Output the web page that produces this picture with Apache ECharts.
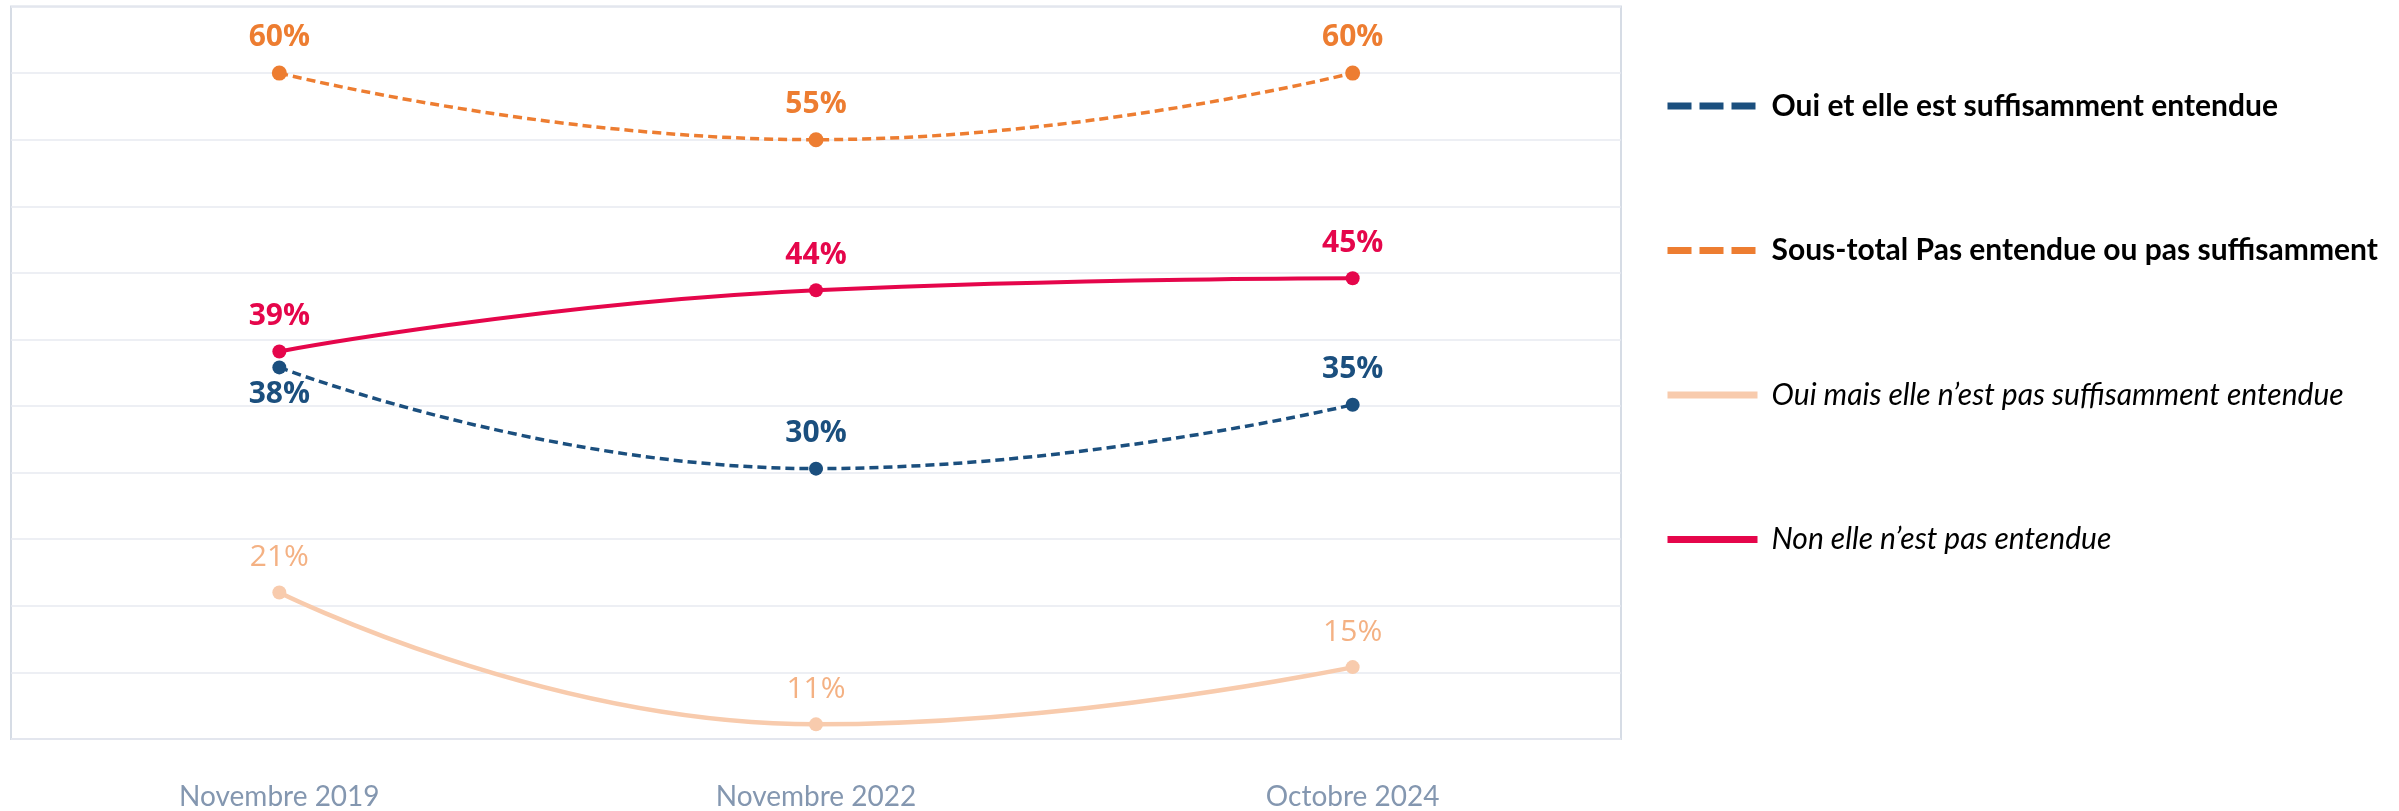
<!DOCTYPE html>
<html>
<head>
    <meta charset="utf-8">
    <title>Est-elle suffisamment entendue</title>
    <style>
        html, body { margin: 0; padding: 0; background: #ffffff; }
        #chart { width: 2399px; height: 811px; }
    </style>
</head>
<body>
    <div id="chart"></div>
    <script src="https://cdn.jsdelivr.net/npm/echarts@6/dist/echarts.min.js"></script>
    <script>
// periodes
var periodes = ['Novembre 2019', 'Novembre 2022', 'Octobre 2024'];

// valeurs (%)
var ouiSuffisant = [37.9, 30.3, 35.1];
var sousTotal = [60, 55, 60];
var ouiPasSuffisant = [21, 11.1, 15.4];
var nonEntendue = [39.1, 43.7, 44.6];

var noms = [
    'Oui et elle est suffisamment entendue',
    'Sous-total Pas entendue ou pas suffisamment',
    'Oui mais elle n\u2019est pas suffisamment entendue',
    'Non elle n\u2019est pas entendue'
];

var chart = echarts.init(document.getElementById('chart'));

function fmt(p) {
    return Math.round(p.value) + '%';
}

function etiquette(couleur, gras) {
    return {
        show: true,
        position: 'top',
        distance: 13,
        formatter: fmt,
        color: couleur,
        fontFamily: 'Open Sans',
        fontWeight: gras ? 'bold' : 'normal',
        fontSize: 30
    };
}

var option = {
    backgroundColor: '#ffffff',
    animation: false,
    grid: {
        left: 11,
        right: 778,
        top: 6.5,
        bottom: 71.5,
        show: true,
        borderColor: '#D6DCE5',
        borderWidth: 2
    },
    legend: {
        orient: 'vertical',
        left: 1659,
        top: 86,
        itemWidth: 90,
        itemHeight: 7,
        itemGap: 114.5,
        itemStyle: { opacity: 0 },
        textStyle: {
            fontFamily: 'Lato',
            fontSize: 30,
            color: '#000000',
            padding: [0, 0, 0, 9]
        },
        data: [
            { name: noms[0], lineStyle: { width: 7, type: [24, 8] }, textStyle: { fontWeight: 'bold' } },
            { name: noms[1], lineStyle: { width: 7, type: [24, 8] }, textStyle: { fontWeight: 'bold' } },
            { name: noms[2], lineStyle: { width: 7 }, textStyle: { fontStyle: 'italic' } },
            { name: noms[3], lineStyle: { width: 7 }, textStyle: { fontStyle: 'italic' } }
        ]
    },
    xAxis: {
        type: 'category',
        data: periodes,
        boundaryGap: true,
        axisLine: { show: false },
        axisTick: { show: false },
        axisLabel: {
            margin: 44,
            fontFamily: 'Lato',
            fontSize: 28,
            color: '#8497B0'
        }
    },
    yAxis: {
        type: 'value',
        min: 10,
        max: 65,
        interval: 5,
        axisLabel: { show: false },
        axisLine: { show: false },
        axisTick: { show: false },
        splitLine: { lineStyle: { color: '#E7EAF1', width: 1.5 } }
    },
    series: [
        {
            name: noms[2],
            type: 'line',
            smooth: true,
            data: ouiPasSuffisant,
            symbol: 'circle',
            symbolSize: 14,
            itemStyle: { color: '#F8CBAD' },
            lineStyle: { color: '#F8CBAD', width: 4.5 },
            label: etiquette('#F4B183', false)
        },
        {
            name: noms[0],
            type: 'line',
            smooth: true,
            data: ouiSuffisant.map(function (v, i) {
                return i === 0 ? { value: v, label: { position: 'bottom', distance: 5 } } : v;
            }),
            symbol: 'circle',
            symbolSize: 14,
            itemStyle: { color: '#1B4F7E' },
            lineStyle: { color: '#1B4F7E', width: 3.5, type: [9, 5] },
            label: etiquette('#1B4F7E', true)
        },
        {
            name: noms[3],
            type: 'line',
            smooth: true,
            data: nonEntendue,
            symbol: 'circle',
            symbolSize: 14,
            itemStyle: { color: '#E5064B' },
            lineStyle: { color: '#E5064B', width: 4 },
            label: etiquette('#E5064B', true)
        },
        {
            name: noms[1],
            type: 'line',
            smooth: true,
            data: sousTotal,
            symbol: 'circle',
            symbolSize: 15,
            itemStyle: { color: '#ED7D31' },
            lineStyle: { color: '#ED7D31', width: 3.5, type: [9, 5] },
            label: etiquette('#ED7D31', true)
        }
    ]
};

chart.setOption(option);
window.addEventListener('resize', function () {
    chart.resize();
});
    </script>
</body>
</html>
